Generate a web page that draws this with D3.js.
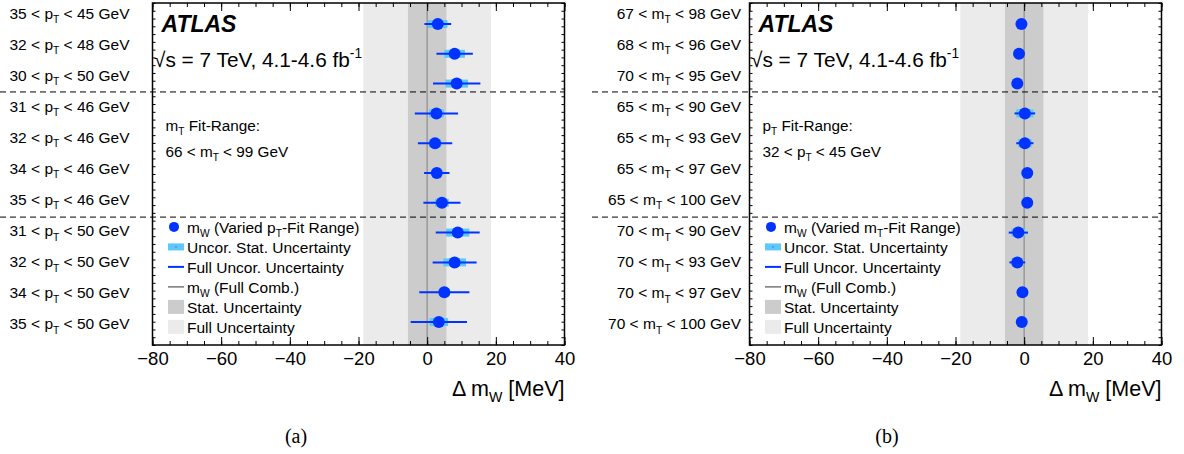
<!DOCTYPE html>
<html><head><meta charset="utf-8">
<script src="https://cdn.jsdelivr.net/npm/d3@7"></script>
<style>body{margin:0;background:#fff}svg{display:block}</style>
</head><body>
<script>
// ---------- data ----------
const labelsA = ["35 < p_{T} < 45 GeV","32 < p_{T} < 48 GeV","30 < p_{T} < 50 GeV","31 < p_{T} < 46 GeV","32 < p_{T} < 46 GeV","34 < p_{T} < 46 GeV","35 < p_{T} < 46 GeV","31 < p_{T} < 50 GeV","32 < p_{T} < 50 GeV","34 < p_{T} < 50 GeV","35 < p_{T} < 50 GeV"];
const valuesA  = [3.1, 8.0, 8.6, 2.7, 2.3, 2.8, 4.3, 8.9, 8.0, 5.0, 3.4];
const fullErrA = [3.9, 5.3, 6.9, 6.3, 5.0, 3.7, 5.4, 6.4, 6.4, 7.3, 8.2];
const statErrA = [2.8, 3.0, 3.3, 2.2, 1.8, 1.3, 2.0, 3.4, 3.3, 1.5, 2.7];

const labelsB = ["67 < m_{T} < 98 GeV","68 < m_{T} < 96 GeV","70 < m_{T} < 95 GeV","65 < m_{T} < 90 GeV","65 < m_{T} < 93 GeV","65 < m_{T} < 97 GeV","65 < m_{T} < 100 GeV","70 < m_{T} < 90 GeV","70 < m_{T} < 93 GeV","70 < m_{T} < 97 GeV","70 < m_{T} < 100 GeV"];
const valuesB  = [-0.8, -1.5, -2.0, 0.2, 0.2, 0.9, 0.9, -1.7, -2.0, -0.5, -0.7];
const fullErrB = [1.0, 1.0, 1.0, 3.0, 2.5, 1.2, 1.0, 2.8, 2.3, 1.6, 1.0];
const statErrB = [0.8, 0.8, 0.8, 2.5, 2.0, 1.0, 0.8, 2.0, 1.6, 1.2, 0.8];

const statBand = 5.6;   // MeV half-width
const fullBand = 18.6;  // MeV half-width
const combValue = 0;
const separators = [2.28, 6.48]; // in row units
const xTicks = [-80, -60, -40, -20, 0, 20, 40];
const xDomain = [-80, 40];
const legendTextsA = ["m_{W} (Varied p_{T}-Fit Range)","Uncor. Stat. Uncertainty","Full Uncor. Uncertainty","m_{W} (Full Comb.)","Stat. Uncertainty","Full Uncertainty"];
const legendTextsB = ["m_{W} (Varied m_{T}-Fit Range)","Uncor. Stat. Uncertainty","Full Uncor. Uncertainty","m_{W} (Full Comb.)","Stat. Uncertainty","Full Uncertainty"];
const fitTextA = ["m_{T} Fit-Range:", "66 < m_{T} < 99 GeV"];
const fitTextB = ["p_{T} Fit-Range:", "32 < p_{T} < 45 GeV"];
const atlasText = "ATLAS";
const energyText = "\u221As = 7 TeV, 4.1-4.6 fb^{-1}";
const axisTitle = "\u0394 m_{W} [MeV]";

// ---------- style ----------
const FONT = "'Liberation Sans', Arial, Helvetica, sans-serif";
const C = {blue:"#0033ff", light:"#5ec8fa", stat:"#cccccc", full:"#ebebeb", comb:"#999999"};

const svg = d3.select("body").append("svg").attr("width",1184).attr("height",454)
  .style("font-family", FONT);

function rich(sel, str, size){
  const parts = str.split(/(_\{[^}]*\}|\^\{[^}]*\})/).filter(s=>s.length);
  let shift = 0;
  parts.forEach(p=>{
    if(p.startsWith("_{")){
      const d = size*0.28;
      sel.append("tspan").attr("dy", d - shift).attr("font-size", size*0.66).text(p.slice(2,-1));
      shift = d;
    } else if(p.startsWith("^{")){
      const d = -size*0.42;
      sel.append("tspan").attr("dy", d - shift).attr("font-size", size*0.66).text(p.slice(2,-1));
      shift = d;
    } else {
      sel.append("tspan").attr("dy", -shift).text(p);
      shift = 0;
    }
  });
  return sel;
}

function panel(cfg){
  const top = 3, bottom = 345;
  const x = d3.scaleLinear().domain(xDomain).range([cfg.x0, cfg.x1]);
  const yRow = d3.scaleLinear().domain([0, 10]).range([24, 322]);
  const yLab = d3.scaleBand().domain(d3.range(cfg.labels.length)).range([top, bottom]);
  const g = svg.append("g");

  // bands
  g.append("rect").attr("x", x(-fullBand)).attr("width", x(fullBand)-x(-fullBand))
    .attr("y", top).attr("height", bottom-top).attr("fill", C.full);
  g.append("rect").attr("x", x(-statBand)).attr("width", x(statBand)-x(-statBand))
    .attr("y", top).attr("height", bottom-top).attr("fill", C.stat);
  g.append("line").attr("x1", x(combValue)).attr("x2", x(combValue)).attr("y1", top).attr("y2", bottom)
    .attr("stroke", C.comb).attr("stroke-width", 1.5);

  // separators
  separators.forEach(s=>{
    g.append("line").attr("x1", cfg.dashStart).attr("x2", cfg.x1).attr("y1", yRow(s)).attr("y2", yRow(s))
      .attr("stroke", "#000").attr("stroke-width", 1).attr("stroke-dasharray", "6,4");
  });

  // data
  const rows = cfg.values.map((v,i)=>({v, f:cfg.fullErr[i], s:cfg.statErr[i], i}));
  g.selectAll(".st").data(rows).join("rect")
    .attr("x", d=>x(d.v-d.s)).attr("width", d=>x(d.v+d.s)-x(d.v-d.s))
    .attr("y", d=>yRow(d.i)-4).attr("height", 8).attr("fill", C.light);
  g.selectAll(".fe").data(rows).join("line")
    .attr("x1", d=>x(d.v-d.f)).attr("x2", d=>x(d.v+d.f))
    .attr("y1", d=>yRow(d.i)).attr("y2", d=>yRow(d.i))
    .attr("stroke", C.blue).attr("stroke-width", 2);
  g.selectAll(".pt").data(rows).join("circle")
    .attr("cx", d=>x(d.v)).attr("cy", d=>yRow(d.i)).attr("r", 6).attr("fill", C.blue);

  // labels
  cfg.labels.forEach((l,i)=>{
    const t = g.append("text").attr("x", cfg.labelRight).attr("y", yLab(i)+yLab.bandwidth()/2)
      .attr("text-anchor","end").attr("font-size", 15.5);
    rich(t, l, 15.5);
  });

  // frame ticks
  const minor = d3.range(xDomain[0], xDomain[1]+0.1, 5);
  const axB = g.append("g").attr("transform", `translate(0,${bottom})`);
  axB.call(d3.axisBottom(x).tickValues(minor).tickSize(-4).tickFormat(""));
  axB.append("g").call(d3.axisBottom(x).tickValues(xTicks).tickSize(-8).tickPadding(7)
      .tickFormat(d3.format("d")));
  axB.selectAll("text").attr("font-size", 18.5).attr("font-family", FONT).attr("fill","#000");
  const axT = g.append("g").attr("transform", `translate(0,${top})`);
  axT.call(d3.axisTop(x).tickValues(minor).tickSize(-4).tickFormat(""));
  axT.append("g").call(d3.axisTop(x).tickValues(xTicks).tickSize(-8).tickFormat(""));
  g.selectAll(".domain").remove();
  g.selectAll(".tick line").attr("stroke","#000");

  const yT = d3.scaleLinear().domain([0,44]).range([top, bottom]);
  g.append("g").attr("transform", `translate(${cfg.x0},0)`)
    .call(d3.axisLeft(yT).ticks(44).tickSize(-3).tickFormat("")).select(".domain").remove();
  g.append("g").attr("transform", `translate(${cfg.x1},0)`)
    .call(d3.axisRight(yT).ticks(44).tickSize(-3).tickFormat("")).select(".domain").remove();
  g.selectAll(".tick line").attr("stroke","#000");

  g.append("rect").attr("x", cfg.x0).attr("y", top).attr("width", cfg.x1-cfg.x0).attr("height", bottom-top)
    .attr("fill","none").attr("stroke","#000").attr("stroke-width",1.5);

  // ATLAS + energy
  g.append("text").attr("x", cfg.x0+9).attr("y", 32).attr("font-size", 23)
    .attr("font-weight","bold").attr("font-style","italic").text(atlasText);
  rich(g.append("text").attr("x", cfg.x0+1.5).attr("y", 66.5).attr("font-size", 20.8), energyText, 20.8);

  // fit range text
  rich(g.append("text").attr("x", cfg.x0+13).attr("y", 131).attr("font-size", 15.3), cfg.fit[0], 15.3);
  rich(g.append("text").attr("x", cfg.x0+13).attr("y", 157).attr("font-size", 15.3), cfg.fit[1], 15.3);

  // legend
  const lx = cfg.x0 + 15.5, tx = cfg.x0 + 34.5;
  const base = i => 232.7 + 20*i;
  const cy = i => base(i) - 5.8;
  g.append("circle").attr("cx", lx+6).attr("cy", cy(0)).attr("r", 5).attr("fill", C.blue);
  g.append("rect").attr("x", lx).attr("y", cy(1)-3.5).attr("width", 16).attr("height", 7).attr("fill", C.light);
  g.append("rect").attr("x", lx+7.5).attr("y", cy(1)-0.5).attr("width", 1).attr("height", 1).attr("fill", C.blue);
  g.append("line").attr("x1", lx).attr("x2", lx+16).attr("y1", cy(2)).attr("y2", cy(2)).attr("stroke", C.blue).attr("stroke-width", 2);
  g.append("line").attr("x1", lx).attr("x2", lx+16).attr("y1", cy(3)).attr("y2", cy(3)).attr("stroke", "#555").attr("stroke-width", 1.2);
  g.append("rect").attr("x", lx).attr("y", cy(4)-7).attr("width", 16).attr("height", 14).attr("fill", C.stat);
  g.append("rect").attr("x", lx).attr("y", cy(5)-7).attr("width", 16).attr("height", 14).attr("fill", C.full);
  cfg.legend.forEach((s,i)=>{
    rich(g.append("text").attr("x", tx).attr("y", base(i)).attr("font-size", 15.5), s, 15.5);
  });

  // axis title
  rich(g.append("text").attr("x", cfg.x1).attr("y", 396).attr("text-anchor","end").attr("font-size", 21.5), axisTitle, 21.5);

  // caption
  svg.append("text").attr("x", cfg.cap).attr("y", 443).attr("text-anchor","middle")
    .attr("font-family","'Liberation Serif','Times New Roman',serif").attr("font-size", 20).text(cfg.tag);
}

panel({x0:152.5, x1:564.5, labelRight:129.5, dashStart:0, labels:labelsA, values:valuesA, fullErr:fullErrA, statErr:statErrA,
  fit:fitTextA, legend:legendTextsA, tag:"(a)", cap:296});
panel({x0:749.5, x1:1161.5, labelRight:741, dashStart:592, labels:labelsB, values:valuesB, fullErr:fullErrB, statErr:statErrB,
  fit:fitTextB, legend:legendTextsB, tag:"(b)", cap:887});
</script>
</body></html>
